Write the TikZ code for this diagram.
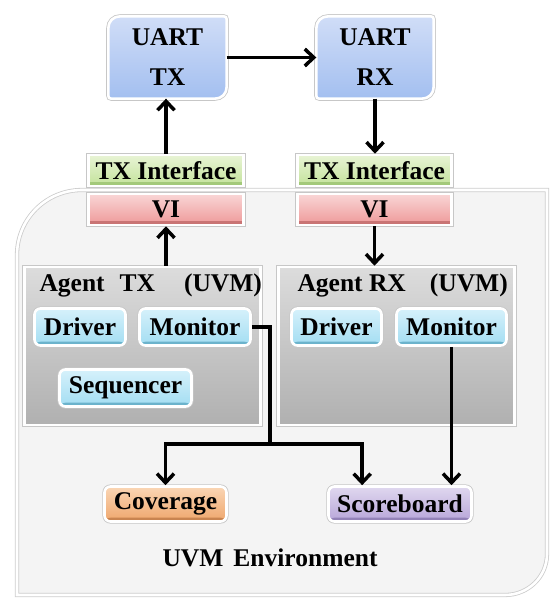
\documentclass[tikz,border=0pt]{standalone}
\usepackage{fontspec}
\setmainfont{Liberation Serif}
\usetikzlibrary{arrows.meta,shadows,calc,backgrounds}

\definecolor{envfill}{HTML}{F4F4F4}
\definecolor{blueT}{HTML}{D0DDF7}
\definecolor{blueB}{HTML}{A3BFF0}
\definecolor{greenT}{HTML}{E8F4D5}
\definecolor{greenB}{HTML}{C3E29A}
\definecolor{greenD}{HTML}{A3C97A}
\definecolor{redT}{HTML}{F9D6D6}
\definecolor{redB}{HTML}{EE9898}
\definecolor{redD}{HTML}{C97474}
\definecolor{cyanT}{HTML}{D6F1FB}
\definecolor{cyanB}{HTML}{A2DDF2}
\definecolor{cyanD}{HTML}{6BB3CC}
\definecolor{orangeT}{HTML}{FAD6B5}
\definecolor{orangeB}{HTML}{EFA66C}
\definecolor{orangeD}{HTML}{C98450}
\definecolor{purpleT}{HTML}{E0D8EF}
\definecolor{purpleB}{HTML}{B7A5D9}
\definecolor{purpleD}{HTML}{9382B8}
\definecolor{greyT}{HTML}{DCDCDC}
\definecolor{greyB}{HTML}{B0B0B0}

\begin{document}
\begin{tikzpicture}[x=1pt,y=-1pt,
  font=\fontsize{25.5}{30}\selectfont\bfseries,
  rim/.style={draw=white, line width=2.6pt,
    drop shadow={opacity=0.4, shadow xshift=0.9pt, shadow yshift=-1.4pt},
    preaction={draw=black!22, line width=4.2pt}},
  panel/.style={rim, inner sep=0pt},
  bevel/.style={path picture={\fill[#1] ([yshift=3.8pt]path picture bounding box.south west)
      rectangle (path picture bounding box.south east);}},
  bar/.style={panel, minimum height=31pt, bevel=#1D, top color=#1T, bottom color=#1B},
  chip/.style={panel, rounded corners=6pt, minimum height=37pt, bevel=#1D, top color=#1T, bottom color=#1B},
  agent/.style={panel, top color=greyT, bottom color=greyB, minimum width=236pt, minimum height=158pt},
  uartshape/.style={rim, top color=blueT, bottom color=blueB},
  wire/.style={draw=black, line width=3.5pt, line join=miter},
  arr/.style={wire, -{Straight Barb[length=9pt,width=17pt]}}
]
\useasboundingbox (0,0) rectangle (550,599);

% UART blocks (text only; their outlines go on the background layer)
\node[minimum width=118pt, minimum height=82pt, align=center, font=\fontsize{25.5}{40}\selectfont\bfseries]
  (utx) at (167.5,57.5) {UART\\TX};
\node[minimum width=117pt, minimum height=82pt, align=center, font=\fontsize{25.5}{40}\selectfont\bfseries]
  (urx) at (375,57.5) {UART\\RX};

\newcommand\diagshape[1]{%
  \path[uartshape]
    ($(#1.north west)+(0,12)$) .. controls ($(#1.north west)+(0,5)$) and ($(#1.north west)+(5,0)$) .. ($(#1.north west)+(12,0)$)
    -- ($(#1.north east)+(-3,0)$) .. controls ($(#1.north east)+(-1,0)$) and ($(#1.north east)+(0,1)$) .. ($(#1.north east)+(0,3)$)
    -- ($(#1.south east)+(0,-12)$) .. controls ($(#1.south east)+(0,-5)$) and ($(#1.south east)+(-5,0)$) .. ($(#1.south east)+(-12,0)$)
    -- ($(#1.south west)+(3,0)$) .. controls ($(#1.south west)+(1,0)$) and ($(#1.south west)+(0,-1)$) .. ($(#1.south west)+(0,-3)$)
    -- cycle;}

\begin{scope}[on background layer]
  % UVM environment frame
  \path[fill=envfill, draw=black!20, double=white, line width=0.8pt, double distance=2.6pt,
        drop shadow={opacity=0.25, shadow xshift=0.8pt, shadow yshift=-1.2pt}]
    (17,255) .. controls (17,219) and (46,190) .. (82,190) -- (547,190) -- (547,554)
    .. controls (547,577) and (528,595) .. (505,595) -- (17,595) -- cycle;
  \diagshape{utx}
  \diagshape{urx}
\end{scope}

% interface stacks
\node[bar=green, minimum width=155pt] (gtx) at (166,170.5) {TX Interface};
\node[bar=red, minimum width=155pt] (vtx) at (166,209.5) {VI};
\node[bar=green, minimum width=154pt] (grx) at (374.5,170.5) {TX Interface};
\node[bar=red, minimum width=154pt] (vrx) at (374.5,209.5) {VI};

% agents
\node[agent] (agt) at (142.5,346) {};
\node[agent] (agr) at (396.5,346) {};
\node[anchor=base west] (agtt) at (36,291) {Agent\hspace{15pt}TX\hspace{29pt}(UVM)};
\node[anchor=base west] (agrt) at (294,291) {Agent RX\hspace{24pt}(UVM)};

\node[chip=cyan, minimum width=91pt]  (dtx) at (80,327) {Driver};
\node[chip=cyan, minimum width=111pt] (mtx) at (195,327) {Monitor};
\node[chip=cyan, minimum width=132pt] (seq) at (125.5,388) {Sequencer};
\node[chip=cyan, minimum width=90pt]  (drx) at (336.5,327) {Driver};
\node[chip=cyan, minimum width=110pt] (mrx) at (451.5,327) {Monitor};

% analysis components
\node[chip=orange, minimum width=122pt, minimum height=35pt] (cov) at (165.5,504) {Coverage};
\node[chip=purple, minimum width=143pt, minimum height=35pt] (sb) at (400,504) {Scoreboard};

\node (envt) at (270,558) {UVM\hspace{10pt}Environment};

% connections
\draw[arr] (utx.east) -- (urx.west);
\draw[arr] (gtx.north) -- (gtx.north |- utx.south);
\draw[arr] (urx.south) -- (urx.south |- grx.north);
\draw[arr] (vtx.south |- agt.north) -- (vtx.south);
\draw[arr] (vrx.south) -- (vrx.south |- agr.north);

\coordinate (split) at (270,444);
\draw[wire] (mtx.east) -| (split);
\draw[arr] (split) -| (cov.north);
\draw[arr] (split) -| ($(sb.north west)!0.24!(sb.north east)$);
\draw[arr] (mrx.south) -- (mrx.south |- sb.north);
\end{tikzpicture}
\end{document}
